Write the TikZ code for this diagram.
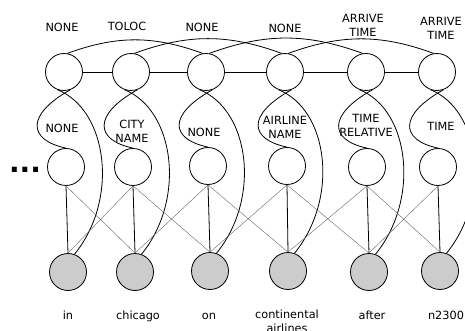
\documentclass[tikz,border=0pt]{standalone}
\usepackage{fontspec}
\setmainfont{DejaVu Sans}
\begin{document}
\begin{tikzpicture}[x=1pt,y=-1pt,
  state/.style={circle,draw,line width=0.8pt,minimum size=37pt,inner sep=0pt},
  obs/.style={state,fill=gray!40},
  tag/.style={font=\fontsize{11.3}{14}\selectfont,align=center,anchor=base,inner sep=0pt},
  link/.style={line width=0.8pt},
  cross/.style={line width=0.4pt,black!60}]
\useasboundingbox (0,0) rectangle (465,331);
\clip (0,0) rectangle (465,331);

% top row
\node[state] (t1) at (64,72) {};
\node[state] (t2) at (131,72) {};
\node[state] (t3) at (206,72) {};
\node[state] (t4) at (285,72) {};
\node[state] (t5) at (366,72) {};
\node[state] (t6) at (437,72) {};
\node[tag] (tl1) at (62,32) {NONE};
\node[tag] (tl2) at (127,31) {TOLOC};
\node[tag] (tl3) at (202,31.5) {NONE};
\node[tag] (tl4) at (285,33) {NONE};
\node[tag] (tl5) at (363,36.7) {ARRIVE\\TIME};
\node[tag] (tl6) at (441,39.3) {ARRIVE\\TIME};

% middle row
\node[state] (m1) at (66,167) {};
\node[state] (m2) at (133,167) {};
\node[state] (m3) at (208,166) {};
\node[state] (m4) at (287,166) {};
\node[state] (m5) at (367,167) {};
\node[state] (m6) at (438,167) {};
\node[tag] (ml1) at (62,133) {NONE};
\node[tag] (ml2) at (132,142.3) {CITY\\NAME};
\node[tag] (ml3) at (204,137) {NONE};
\node[tag] (ml4) at (285,138.7) {AIRLINE\\NAME};
\node[tag] (ml5) at (366,136.7) {TIME\\RELATIVE};
\node[tag] (ml6) at (441,131) {TIME};
\node[anchor=base,inner sep=0pt,font=\fontsize{28}{28}\selectfont\bfseries] (dots) at (25,172) {...};

% bottom row
\node[obs] (b1) at (68,272) {};
\node[obs] (b2) at (135,272) {};
\node[obs] (b3) at (210,271) {};
\node[obs] (b4) at (288,271) {};
\node[obs] (b5) at (369,272) {};
\node[obs] (b6) at (440,271) {};
\node[tag] (w1) at (68,319) {in};
\node[tag] (w2) at (138,319) {chicago};
\node[tag] (w3) at (209,319) {on};
\node[tag] (w4) at (287,332) {continental\\airlines};
\node[tag] (w5) at (372,319) {after};
\node[tag] (w6) at (446,319) {n2300};

% top chain
\draw[link] (t1) -- (t2);
\draw[link] (t2) -- (t3);
\draw[link] (t3) -- (t4);
\draw[link] (t4) -- (t5);
\draw[link] (t5) -- (t6);
\draw[link] (t1.80) to[out=20,in=160] (t3.100);
\draw[link] (t2.80) to[out=20,in=160] (t4.100);
\draw[link] (t3.80) to[out=20,in=160] (t5.100);
\draw[link] (t4.80) to[out=20,in=160] (t6.100);

% top to middle and to words
\draw[link] (t1.290) .. controls +(-45,25) and +(-38,-8) .. (m1.north);
\draw[link] (t2.290) .. controls +(-45,25) and +(-38,-8) .. (m2.north);
\draw[link] (t3.290) .. controls +(-45,25) and +(-38,-8) .. (m3.north);
\draw[link] (t4.290) .. controls +(-45,25) and +(-38,-8) .. (m4.north);
\draw[link] (t5.290) .. controls +(-45,25) and +(-38,-8) .. (m5.north);
\draw[link] (t6.290) .. controls +(-45,25) and +(-38,-8) .. (m6.north);
\draw[link] (t1.250) .. controls +(50,20) and +(45,-55) .. (b1.70);
\draw[link] (t2.250) .. controls +(50,20) and +(45,-55) .. (b2.70);
\draw[link] (t3.250) .. controls +(50,20) and +(45,-55) .. (b3.70);
\draw[link] (t4.250) .. controls +(50,20) and +(45,-55) .. (b4.70);
\draw[link] (t5.250) .. controls +(50,20) and +(45,-55) .. (b5.70);
\draw[link] (t6.250) .. controls +(50,20) and +(45,-55) .. (b6.70);

% middle to words
\draw[link] (m1.south) -- (b1.north);
\draw[link] (m2.south) -- (b2.north);
\draw[link] (m3.south) -- (b3.north);
\draw[link] (m4.south) -- (b4.north);
\draw[link] (m5.south) -- (b5.north);
\draw[link] (m6.south) -- (b6.north);
\draw[cross] (m1.south) -- (b2.north);
\draw[cross] (m2.south) -- (b1.north);
\draw[cross] (m2.south) -- (b3.north);
\draw[cross] (m3.south) -- (b2.north);
\draw[cross] (m3.south) -- (b4.north);
\draw[cross] (m4.south) -- (b3.north);
\draw[cross] (m4.south) -- (b5.north);
\draw[cross] (m5.south) -- (b4.north);
\draw[cross] (m5.south) -- (b6.north);
\draw[cross] (m6.south) -- (b5.north);
\end{tikzpicture}
\end{document}
